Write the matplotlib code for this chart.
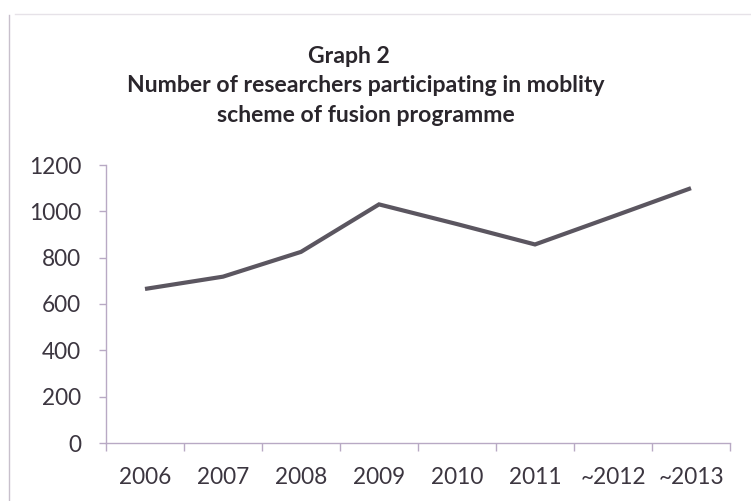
import matplotlib
matplotlib.use("Agg")
import matplotlib.pyplot as plt
from matplotlib.lines import Line2D

years = ["2006", "2007", "2008", "2009", "2010", "2011", "~2012", "~2013"]
researchers = [665, 718, 825, 1030, 945, 857, 978, 1100]
yticks = [0, 200, 400, 600, 800, 1000, 1200]
title_lines = ["Graph 2",
               "Number of researchers participating in moblity",
               "scheme of fusion programme"]

W, H = 751, 501
fig = plt.figure(figsize=(W / 100, H / 100), dpi=100)
fig.patch.set_facecolor("white")
font = "Lato"
axis_col = "#b8a9c4"
text_col = "#3c3640"

ax = fig.add_axes([106 / W, 1 - 443 / H, (730 - 106) / W, (443 - 165) / H])
x = list(range(len(years)))
ax.plot(x, researchers, color="#5b5660", lw=3.0, solid_capstyle="butt",
        solid_joinstyle="miter")
ax.set_xlim(-0.5, len(years) - 0.5)
ax.set_ylim(0, 1200)
ax.set_yticks(yticks)
ax.set_yticklabels([str(v) for v in yticks], fontfamily=font, fontsize=16.3, color=text_col)
ax.set_xticks(x)
ax.set_xticklabels(years, fontfamily=font, fontsize=16.3, color=text_col)
ax.set_xticks([i - 0.5 for i in range(len(years) + 1)], minor=True)
ax.tick_params(axis="x", which="major", length=0, pad=17)
ax.tick_params(axis="x", which="minor", length=6, color=axis_col, width=1)
ax.tick_params(axis="y", which="major", length=5, color=axis_col, width=1, pad=13)
for s in ["top", "right"]:
    ax.spines[s].set_visible(False)
for s in ["left", "bottom"]:
    ax.spines[s].set_color(axis_col)
    ax.spines[s].set_linewidth(1)

# title
tkw = dict(ha="center", va="baseline", fontfamily=font, fontweight="bold",
           fontsize=16.6, color="#2a262c")
fig.text(349 / W, 1 - 63 / H, title_lines[0], **tkw)
fig.text(366 / W, 1 - 92 / H, title_lines[1], **tkw)
fig.text(366 / W, 1 - 122 / H, title_lines[2], **tkw)

# scanned frame
fig.add_artist(Line2D([9 / W, 9 / W], [0, 1 - 15 / H], transform=fig.transFigure,
                      color="#c8c0cc", lw=1))
fig.add_artist(Line2D([15 / W, 1], [1 - 14 / H, 1 - 14 / H], transform=fig.transFigure,
                      color="#e6e2e8", lw=1))

fig.savefig("out.png", dpi=100, facecolor="white")
